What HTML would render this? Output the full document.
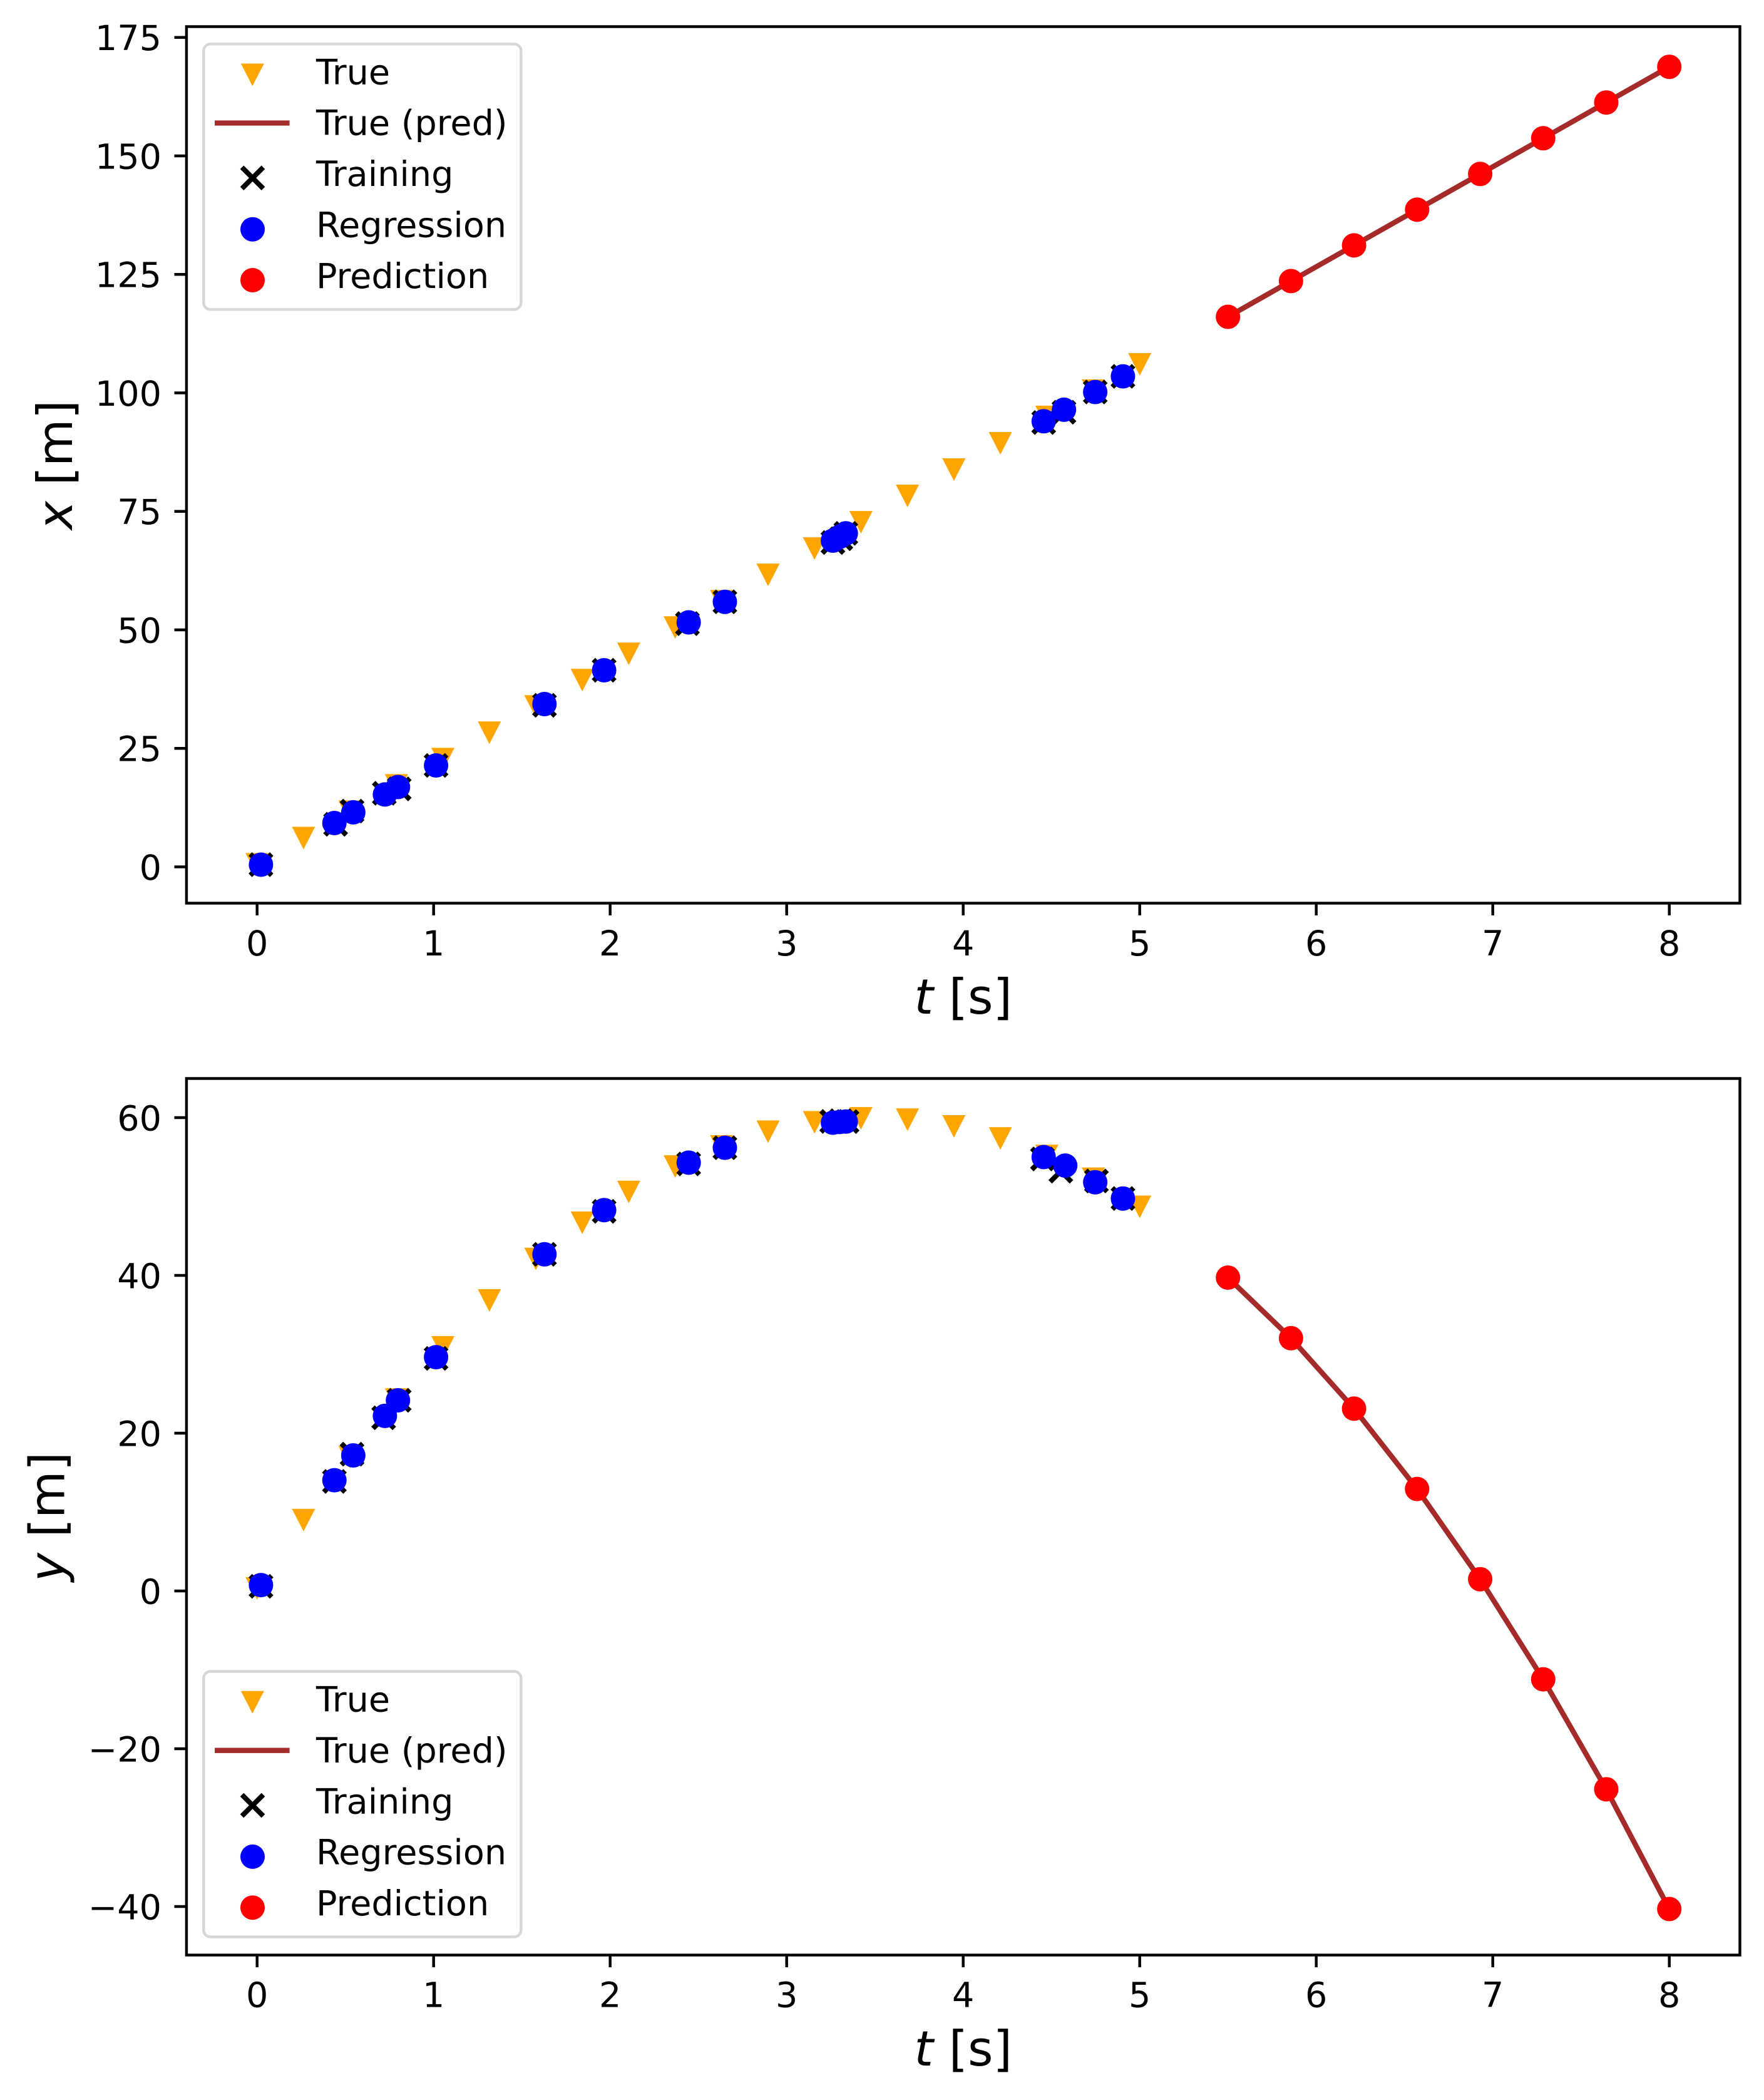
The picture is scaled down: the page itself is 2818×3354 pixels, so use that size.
<!DOCTYPE html>
<html><head><meta charset="utf-8"><style>html,body{margin:0;padding:0;background:#fff}svg{display:block}text{font-family:"DejaVu Sans","Liberation Sans",sans-serif;fill:#000}</style></head>
<body>
<svg width="2818" height="3354" viewBox="0 0 2818 3354" xmlns="http://www.w3.org/2000/svg">
<defs>
<path id="tri" d="M-18.5,-18 L18.5,-18 L0,18 Z" fill="#ffa500"/>
<path id="xm" d="M-17,-17L17,17M-17,17L17,-17" stroke="#000" stroke-width="8" fill="none"/>
<circle id="bc" r="19.5" fill="#0000ff"/>
<circle id="rc" r="19.5" fill="#ff0000"/>
</defs>
<rect width="2818" height="3354" fill="#fff"/>

<!-- ================= TOP PLOT ================= -->
<g>
<use href="#tri" x="410.7" y="1380.5"/><use href="#tri" x="484.9" y="1338.5"/><use href="#tri" x="559.1" y="1296.4"/><use href="#tri" x="633.3" y="1254.4"/><use href="#tri" x="707.5" y="1212.4"/><use href="#tri" x="781.8" y="1170.3"/><use href="#tri" x="856.0" y="1128.3"/><use href="#tri" x="930.2" y="1086.3"/><use href="#tri" x="1004.4" y="1044.2"/><use href="#tri" x="1078.6" y="1002.2"/><use href="#tri" x="1152.8" y="960.2"/><use href="#tri" x="1227.0" y="918.1"/><use href="#tri" x="1301.2" y="876.1"/><use href="#tri" x="1375.4" y="834.1"/><use href="#tri" x="1449.7" y="792.0"/><use href="#tri" x="1523.9" y="750.0"/><use href="#tri" x="1598.1" y="708.0"/><use href="#tri" x="1672.3" y="665.9"/><use href="#tri" x="1746.5" y="623.9"/><use href="#tri" x="1820.7" y="581.9"/>
</g>
<polyline points="1961.7,506 2062.4,448.9 2163.1,391.9 2263.8,334.9 2364.6,277.8 2465.3,220.8 2566,163.7 2666.7,106.7" fill="none" stroke="#a52a2a" stroke-width="8.3" stroke-linejoin="round" stroke-linecap="square"/>
<g>
<use href="#xm" x="416.9" y="1381.0"/><use href="#xm" x="536.2" y="1316.5"/><use href="#xm" x="562.4" y="1295.4"/><use href="#xm" x="613.9" y="1266.9"/><use href="#xm" x="637.7" y="1260.0"/><use href="#xm" x="696.6" y="1222.5"/><use href="#xm" x="869.8" y="1126.5"/><use href="#xm" x="965.1" y="1070.5"/><use href="#xm" x="1098.2" y="996.0"/><use href="#xm" x="1158.0" y="961.2"/><use href="#xm" x="1330.6" y="866.5"/><use href="#xm" x="1343.3" y="860.4"/><use href="#xm" x="1351.2" y="851.8"/><use href="#xm" x="1667.3" y="674.8"/><use href="#xm" x="1699.7" y="658.4"/><use href="#xm" x="1749.6" y="626.1"/><use href="#xm" x="1793.9" y="601.1"/>
</g>
<g>
<use href="#bc" x="416.9" y="1381.0"/><use href="#bc" x="534.2" y="1314.5"/><use href="#bc" x="564.4" y="1297.4"/><use href="#bc" x="614.9" y="1268.9"/><use href="#bc" x="635.7" y="1257.0"/><use href="#bc" x="696.6" y="1222.5"/><use href="#bc" x="869.8" y="1124.5"/><use href="#bc" x="965.1" y="1070.5"/><use href="#bc" x="1100.2" y="994.0"/><use href="#bc" x="1158.0" y="961.2"/><use href="#bc" x="1330.6" y="863.5"/><use href="#bc" x="1341.3" y="857.4"/><use href="#bc" x="1351.2" y="851.8"/><use href="#bc" x="1667.3" y="672.8"/><use href="#bc" x="1699.7" y="654.4"/><use href="#bc" x="1749.6" y="626.1"/><use href="#bc" x="1793.9" y="601.1"/>
</g>
<g>
<use href="#rc" x="1961.7" y="506"/><use href="#rc" x="2062.4" y="448.9"/><use href="#rc" x="2163.1" y="391.9"/><use href="#rc" x="2263.8" y="334.9"/><use href="#rc" x="2364.6" y="277.8"/><use href="#rc" x="2465.3" y="220.8"/><use href="#rc" x="2566" y="163.7"/><use href="#rc" x="2666.7" y="106.7"/>
</g>
<rect x="297.9" y="42.5" width="2481.6" height="1400" fill="none" stroke="#000" stroke-width="4.44"/>
<g stroke="#000" stroke-width="4.44">
<line x1="297.9" y1="1384.5" x2="278.5" y2="1384.5"/><line x1="297.9" y1="1195.25" x2="278.5" y2="1195.25"/><line x1="297.9" y1="1006" x2="278.5" y2="1006"/><line x1="297.9" y1="816.75" x2="278.5" y2="816.75"/><line x1="297.9" y1="627.5" x2="278.5" y2="627.5"/><line x1="297.9" y1="438.25" x2="278.5" y2="438.25"/><line x1="297.9" y1="249" x2="278.5" y2="249"/><line x1="297.9" y1="59.75" x2="278.5" y2="59.75"/>
<line x1="410.7" y1="1442.5" x2="410.7" y2="1462"/><line x1="692.7" y1="1442.5" x2="692.7" y2="1462"/><line x1="974.7" y1="1442.5" x2="974.7" y2="1462"/><line x1="1256.7" y1="1442.5" x2="1256.7" y2="1462"/><line x1="1538.7" y1="1442.5" x2="1538.7" y2="1462"/><line x1="1820.7" y1="1442.5" x2="1820.7" y2="1462"/><line x1="2102.7" y1="1442.5" x2="2102.7" y2="1462"/><line x1="2384.7" y1="1442.5" x2="2384.7" y2="1462"/><line x1="2666.7" y1="1442.5" x2="2666.7" y2="1462"/>
</g>
<g font-size="55.6" text-anchor="end">
<text x="258" y="1404.8">0</text><text x="258" y="1215.5">25</text><text x="258" y="1026.3">50</text><text x="258" y="837">75</text><text x="258" y="647.8">100</text><text x="258" y="458.5">125</text><text x="258" y="269.3">150</text><text x="258" y="80">175</text>
</g>
<g font-size="55.6" text-anchor="middle">
<text x="410.7" y="1526">0</text><text x="692.7" y="1526">1</text><text x="974.7" y="1526">2</text><text x="1256.7" y="1526">3</text><text x="1538.7" y="1526">4</text><text x="1820.7" y="1526">5</text><text x="2102.7" y="1526">6</text><text x="2384.7" y="1526">7</text><text x="2666.7" y="1526">8</text>
</g>
<text x="1538.7" y="1619" font-size="77.8" text-anchor="middle"><tspan font-style="italic">t</tspan> [s]</text>
<text transform="translate(115,742.5) rotate(-90)" font-size="77.8" text-anchor="middle"><tspan font-style="italic">x</tspan> [m]</text>

<!-- top legend -->
<rect x="325.3" y="70.3" width="507" height="424" rx="11" ry="11" fill="#fff" fill-opacity="0.8" stroke="#d6d6d6" stroke-width="4.4"/>
<use href="#tri" x="403.3" y="119.5"/>
<line x1="347.2" y1="196.5" x2="458.4" y2="196.5" stroke="#a52a2a" stroke-width="8.3" stroke-linecap="square"/>
<use href="#xm" x="403.5" y="284.2"/>
<use href="#bc" x="403.5" y="366.2"/>
<use href="#rc" x="403.5" y="447.5"/>
<g font-size="55.6">
<text x="505" y="134.3">True</text><text x="505" y="215.7">True (pred)</text><text x="505" y="297.1">Training</text><text x="505" y="378.5">Regression</text><text x="505" y="459.9">Prediction</text>
</g>

<!-- ================= BOTTOM PLOT ================= -->
<g>
<use href="#tri" x="410.7" y="2537"/><use href="#tri" x="484.9" y="2427.9"/><use href="#tri" x="559.1" y="2327.3"/><use href="#tri" x="633.3" y="2235.3"/><use href="#tri" x="707.5" y="2151.9"/><use href="#tri" x="781.8" y="2077"/><use href="#tri" x="856" y="2010.7"/><use href="#tri" x="930.2" y="1952.9"/><use href="#tri" x="1004.4" y="1903.7"/><use href="#tri" x="1078.6" y="1863.1"/><use href="#tri" x="1152.8" y="1831"/><use href="#tri" x="1227" y="1807.5"/><use href="#tri" x="1301.2" y="1792.5"/><use href="#tri" x="1375.4" y="1786.1"/><use href="#tri" x="1449.7" y="1788.3"/><use href="#tri" x="1523.9" y="1799"/><use href="#tri" x="1598.1" y="1818.3"/><use href="#tri" x="1672.3" y="1846.2"/><use href="#tri" x="1746.5" y="1882.6"/><use href="#tri" x="1820.7" y="1927.5"/>
</g>
<polyline points="1961.7,2040.5 2062.4,2137.3 2163.1,2249.8 2263.8,2378.1 2364.6,2522.2 2465.3,2682.1 2566,2857.7 2666.7,3049" fill="none" stroke="#a52a2a" stroke-width="8.3" stroke-linejoin="round" stroke-linecap="square"/>
<g>
<use href="#xm" x="416.9" y="2533.6"/><use href="#xm" x="534.2" y="2366.1"/><use href="#xm" x="562.4" y="2322.5"/><use href="#xm" x="612.9" y="2264.4"/><use href="#xm" x="637.7" y="2236.5"/><use href="#xm" x="696.6" y="2169.6"/><use href="#xm" x="869.8" y="2003.3"/><use href="#xm" x="965.1" y="1934.7"/><use href="#xm" x="1100.2" y="1858.9"/><use href="#xm" x="1158.0" y="1833.1"/><use href="#xm" x="1328.6" y="1791.1"/><use href="#xm" x="1343.3" y="1790.0"/><use href="#xm" x="1353.2" y="1791.3"/><use href="#xm" x="1665.3" y="1851.0"/><use href="#xm" x="1694.7" y="1870.6"/><use href="#xm" x="1751.6" y="1886.2"/><use href="#xm" x="1793.9" y="1914.2"/>
</g>
<g>
<use href="#bc" x="416.9" y="2531.6"/><use href="#bc" x="534.2" y="2364.1"/><use href="#bc" x="564.4" y="2324.5"/><use href="#bc" x="614.9" y="2261.4"/><use href="#bc" x="635.7" y="2236.5"/><use href="#bc" x="696.6" y="2167.6"/><use href="#bc" x="869.8" y="2003.3"/><use href="#bc" x="965.1" y="1932.7"/><use href="#bc" x="1100.2" y="1856.9"/><use href="#bc" x="1158.0" y="1833.1"/><use href="#bc" x="1330.6" y="1793.1"/><use href="#bc" x="1341.3" y="1792.0"/><use href="#bc" x="1351.2" y="1791.3"/><use href="#bc" x="1667.3" y="1848.0"/><use href="#bc" x="1701.7" y="1861.6"/><use href="#bc" x="1749.6" y="1888.2"/><use href="#bc" x="1793.9" y="1914.2"/>
</g>
<g>
<use href="#rc" x="1961.7" y="2040.5"/><use href="#rc" x="2062.4" y="2137.3"/><use href="#rc" x="2163.1" y="2249.8"/><use href="#rc" x="2263.8" y="2378.1"/><use href="#rc" x="2364.6" y="2522.2"/><use href="#rc" x="2465.3" y="2682.1"/><use href="#rc" x="2566" y="2857.7"/><use href="#rc" x="2666.7" y="3049"/>
</g>
<rect x="297.9" y="1722.5" width="2481.6" height="1400" fill="none" stroke="#000" stroke-width="4.44"/>
<g stroke="#000" stroke-width="4.44">
<line x1="297.9" y1="1785" x2="278.5" y2="1785"/><line x1="297.9" y1="2037" x2="278.5" y2="2037"/><line x1="297.9" y1="2289" x2="278.5" y2="2289"/><line x1="297.9" y1="2541" x2="278.5" y2="2541"/><line x1="297.9" y1="2793" x2="278.5" y2="2793"/><line x1="297.9" y1="3045" x2="278.5" y2="3045"/>
<line x1="410.7" y1="3122.5" x2="410.7" y2="3142"/><line x1="692.7" y1="3122.5" x2="692.7" y2="3142"/><line x1="974.7" y1="3122.5" x2="974.7" y2="3142"/><line x1="1256.7" y1="3122.5" x2="1256.7" y2="3142"/><line x1="1538.7" y1="3122.5" x2="1538.7" y2="3142"/><line x1="1820.7" y1="3122.5" x2="1820.7" y2="3142"/><line x1="2102.7" y1="3122.5" x2="2102.7" y2="3142"/><line x1="2384.7" y1="3122.5" x2="2384.7" y2="3142"/><line x1="2666.7" y1="3122.5" x2="2666.7" y2="3142"/>
</g>
<g font-size="55.6" text-anchor="end">
<text x="258" y="1805.3">60</text><text x="258" y="2057.3">40</text><text x="258" y="2309.3">20</text><text x="258" y="2561.3">0</text><text x="258" y="2813.3">−20</text><text x="258" y="3065.3">−40</text>
</g>
<g font-size="55.6" text-anchor="middle">
<text x="410.7" y="3205.5">0</text><text x="692.7" y="3205.5">1</text><text x="974.7" y="3205.5">2</text><text x="1256.7" y="3205.5">3</text><text x="1538.7" y="3205.5">4</text><text x="1820.7" y="3205.5">5</text><text x="2102.7" y="3205.5">6</text><text x="2384.7" y="3205.5">7</text><text x="2666.7" y="3205.5">8</text>
</g>
<text x="1538.7" y="3299" font-size="77.8" text-anchor="middle"><tspan font-style="italic">t</tspan> [s]</text>
<text transform="translate(102.6,2422.5) rotate(-90)" font-size="77.8" text-anchor="middle"><tspan font-style="italic">y</tspan> [m]</text>

<!-- bottom legend -->
<rect x="325.3" y="2669.5" width="507" height="424" rx="11" ry="11" fill="#fff" fill-opacity="0.8" stroke="#d6d6d6" stroke-width="4.4"/>
<use href="#tri" x="403.3" y="2718.7"/>
<line x1="347.2" y1="2795.7" x2="458.4" y2="2795.7" stroke="#a52a2a" stroke-width="8.3" stroke-linecap="square"/>
<use href="#xm" x="403.5" y="2883.4"/>
<use href="#bc" x="403.5" y="2965.4"/>
<use href="#rc" x="403.5" y="3046.7"/>
<g font-size="55.6">
<text x="505" y="2733.5">True</text><text x="505" y="2814.9">True (pred)</text><text x="505" y="2896.3">Training</text><text x="505" y="2977.7">Regression</text><text x="505" y="3059.1">Prediction</text>
</g>
</svg>
</body></html>
